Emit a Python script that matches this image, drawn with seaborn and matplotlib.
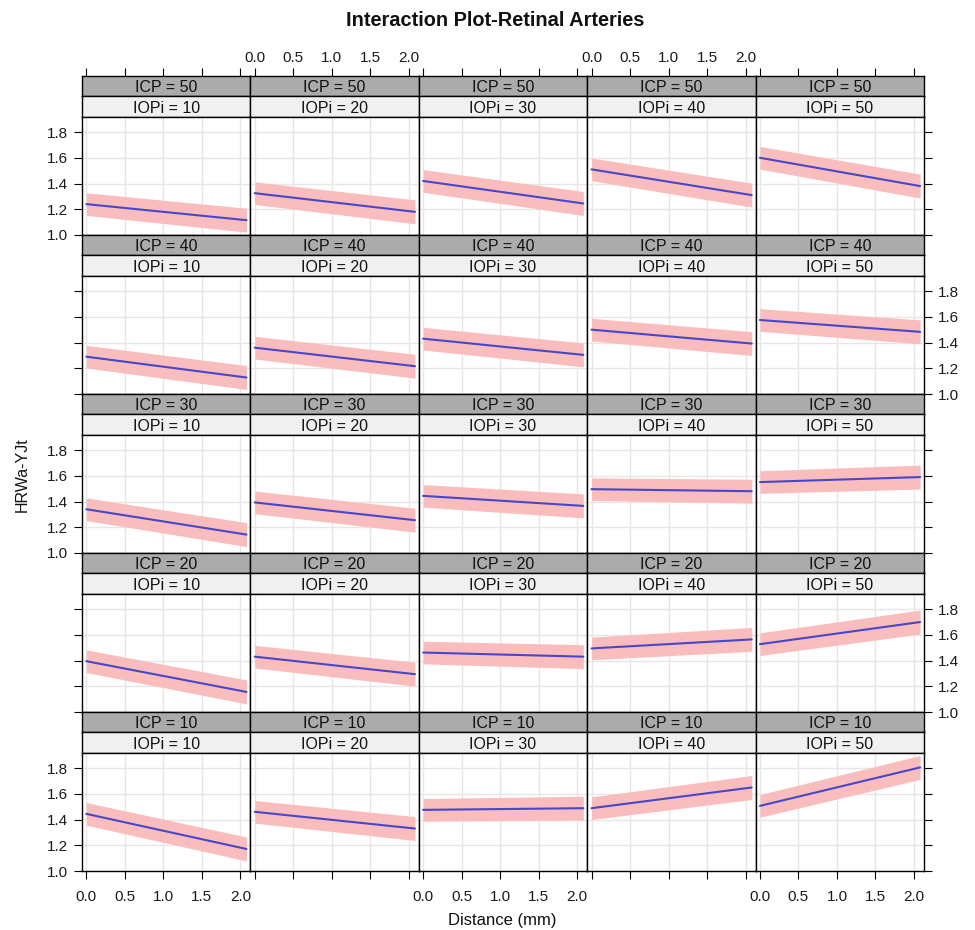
import numpy as np
import pandas as pd
import matplotlib
matplotlib.use("Agg")
import matplotlib.pyplot as plt
import seaborn as sns

sns.set_theme(style="white")
plt.rcParams['font.family'] = ['Liberation Sans', 'DejaVu Sans']

# ---------------- data ----------------
icp_levels = [50, 40, 30, 20, 10]          # panel rows, top to bottom
iopi_levels = [10, 20, 30, 40, 50]         # panel columns, left to right
distance = [0.0, 2.08]                     # x range of the fitted lines

fit_at_start = [                           # fitted value at Distance = 0
    [1.24, 1.325, 1.42, 1.51, 1.60],
    [1.29, 1.36, 1.43, 1.50, 1.575],
    [1.34, 1.393, 1.444, 1.496, 1.551],
    [1.395, 1.43, 1.462, 1.494, 1.527],
    [1.444, 1.46, 1.475, 1.488, 1.506],
]
fit_at_end = [                             # fitted value at Distance = 2.08
    [1.115, 1.18, 1.245, 1.31, 1.38],
    [1.128, 1.216, 1.304, 1.392, 1.483],
    [1.143, 1.255, 1.366, 1.48, 1.59],
    [1.156, 1.294, 1.43, 1.564, 1.699],
    [1.171, 1.33, 1.488, 1.649, 1.805],
]
band_half_start = 0.088                    # confidence band half-width at start
band_half_end = 0.093                      # confidence band half-width at end

x_ticks = [0.0, 0.5, 1.0, 1.5, 2.0]
y_ticks = [1.0, 1.2, 1.4, 1.6, 1.8]
x_lim = (-0.056, 2.13)
y_lim = (1.0, 1.92)

title = "Interaction Plot-Retinal Arteries"
x_label = "Distance (mm)"
y_label = "HRWa-YJt"

# ---------------- long table ----------------
records = []
for r, icp in enumerate(icp_levels):
    for c, iop in enumerate(iopi_levels):
        vals = [fit_at_start[r][c], fit_at_end[r][c]]
        halves = [band_half_start, band_half_end]
        for d, v, h in zip(distance, vals, halves):
            records.append(dict(ICP=icp, IOPi=iop, Distance=d, fit=v,
                                lower=v - h, upper=v + h))
df = pd.DataFrame(records)

# ---------------- layout ----------------
W, H = 975, 930
fig = plt.figure(figsize=(W / 100, H / 100), dpi=100)
fig.patch.set_facecolor("white")

x0, pw = 82.0, 168.4
y0, rh, sh = 76.0, 159.0, 20.3
ph = rh - 2 * sh

def rect(left, top, w, h):
    return [left / W, 1 - (top + h) / H, w / W, h / H]

line_col = "#4747C9"
band_col = "#FABDBD"
grid_col = "#E6E6E6"
dark_strip = "#ABABAB"
light_strip = "#F0F0F0"
tick_fs = 11
strip_fs = 11.5
tick_kw = dict(direction="out", length=5.5, width=0.8, color="black",
               labelsize=tick_fs, labelcolor="#1a1a1a")

for r, icp in enumerate(icp_levels):
    top = y0 + rh * r
    for c, iop in enumerate(iopi_levels):
        left = x0 + pw * c
        # strips
        for k, (txt, fc) in enumerate([(f"ICP = {icp}", dark_strip),
                                       (f"IOPi = {iop}", light_strip)]):
            sax = fig.add_axes(rect(left, top + k * sh, pw, sh))
            sax.set_facecolor(fc)
            sax.set_xlim(*x_lim)
            sax.set_ylim(0, 1)
            sax.set_yticks([])
            for s in sax.spines.values():
                s.set_color("black")
                s.set_linewidth(1.0)
            sax.text(0.5, 0.42, txt, transform=sax.transAxes, ha="center",
                     va="center", fontsize=strip_fs, color="#111111")
            if r == 0 and k == 0:
                sax.xaxis.tick_top()
                sax.set_xticks(x_ticks)
                sax.tick_params(axis="x", top=True, bottom=False, pad=2.5,
                                **tick_kw)
                if c in (1, 3):
                    sax.set_xticklabels([f"{t:.1f}" for t in x_ticks])
                else:
                    sax.set_xticklabels([])
            else:
                sax.set_xticks([])

        # panel
        ax = fig.add_axes(rect(left, top + 2 * sh, pw, ph))
        sub = df[(df.ICP == icp) & (df.IOPi == iop)]
        ax.fill_between(sub["Distance"], sub["lower"], sub["upper"],
                        color=band_col, linewidth=0, zorder=2)
        sns.lineplot(data=sub, x="Distance", y="fit", ax=ax, color=line_col,
                     linewidth=1.5, zorder=3, legend=False)
        ax.set_xlim(*x_lim)
        ax.set_ylim(*y_lim)
        ax.set_xticks(x_ticks)
        ax.set_yticks(y_ticks)
        ax.grid(True, color=grid_col, linewidth=1.0, zorder=0)
        ax.set_axisbelow(True)
        ax.set_xlabel("")
        ax.set_ylabel("")
        for s in ax.spines.values():
            s.set_color("black")
            s.set_linewidth(1.0)
        ax.tick_params(axis="both", bottom=False, left=False, top=False,
                       right=False, labelbottom=False, labelleft=False,
                       labeltop=False, labelright=False)
        if r == len(icp_levels) - 1:
            ax.tick_params(axis="x", bottom=True, pad=8.5, **tick_kw)
            if c in (0, 2, 4):
                ax.tick_params(axis="x", labelbottom=True)
                ax.set_xticklabels([f"{t:.1f}" for t in x_ticks])
        if c == 0:
            ax.tick_params(axis="y", left=True, pad=4.5, **tick_kw)
            if r in (0, 2, 4):
                ax.tick_params(axis="y", labelleft=True)
                ax.set_yticklabels([f"{t:.1f}" for t in y_ticks])
        if c == len(iopi_levels) - 1:
            ax.tick_params(axis="y", right=True, pad=4.5, **tick_kw)
            if r in (1, 3):
                ax.tick_params(axis="y", labelright=True)
                ax.set_yticklabels([f"{t:.1f}" for t in y_ticks])

fig.text(495 / W, 1 - 20 / H, title, ha="center", va="center",
         fontsize=14.4, fontweight="bold", color="#111111")
fig.text(502 / W, 1 - 920 / H, x_label, ha="center", va="center",
         fontsize=12, color="#111111")
fig.text(22 / W, 1 - 475 / H, y_label, ha="center", va="center",
         fontsize=11.5, rotation=90, color="#111111")

fig.savefig("out.png", dpi=100, facecolor="white")
